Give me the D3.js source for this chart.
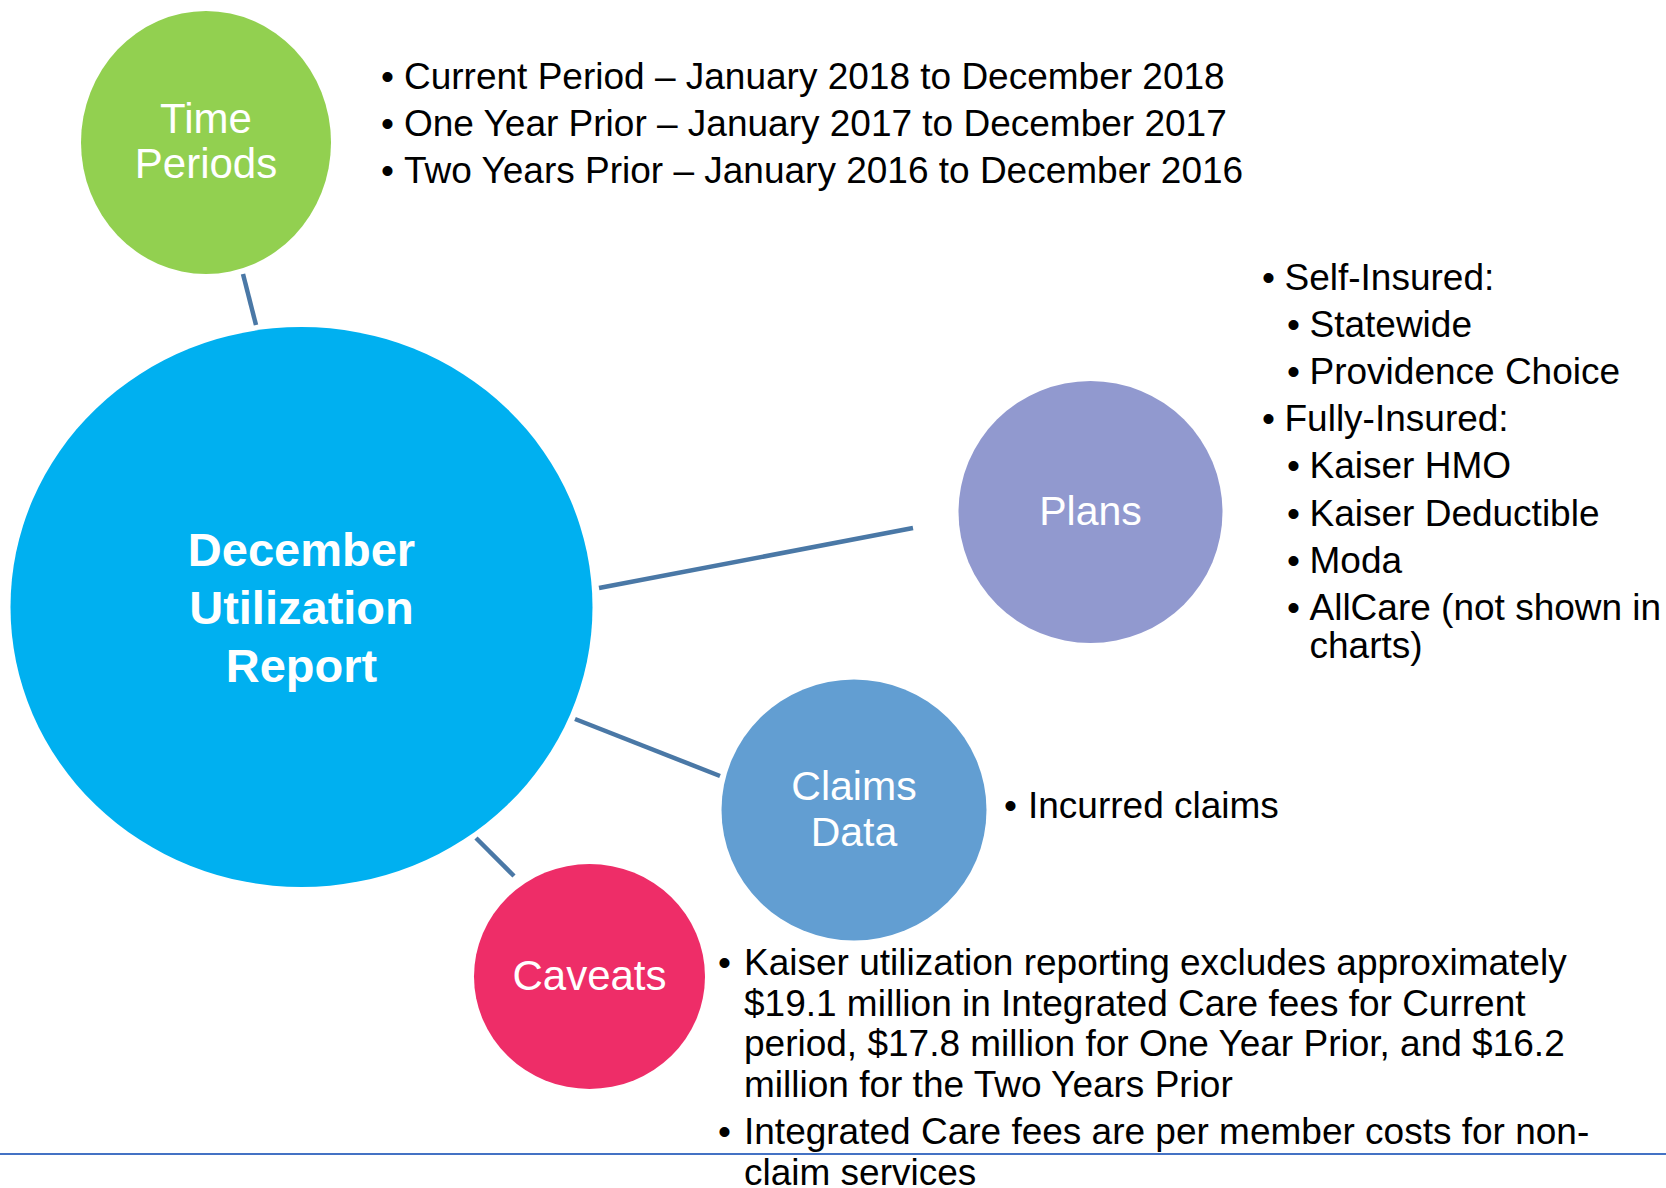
<!DOCTYPE html>
<html>
<head>
<meta charset="utf-8">
<title>December Utilization Report</title>
<script src="https://cdn.jsdelivr.net/npm/d3@7"></script>
<style>
  body { margin: 0; background: #fff; }
  svg text { font-family: "Liberation Sans", Arial, sans-serif; }
</style>
</head>
<body>
<div id="chart"></div>
<script>
// topics shown as bubbles
var topics = ["main", "time", "plans", "claims", "caveats"];
var topicLabels = [
    ["December", "Utilization", "Report"],
    ["Time", "Periods"],
    ["Plans"],
    ["Claims", "Data"],
    ["Caveats"]
];

// bullet texts for each topic (each item = list of wrapped lines)
var timeItems = [
    ["Current Period \u2013 January 2018 to December 2018"],
    ["One Year Prior \u2013 January 2017 to December 2017"],
    ["Two Years Prior \u2013 January 2016 to December 2016"]
];
var planItems = [
    ["Self-Insured:"],
    ["Statewide"],
    ["Providence Choice"],
    ["Fully-Insured:"],
    ["Kaiser HMO"],
    ["Kaiser Deductible"],
    ["Moda"],
    ["AllCare (not shown in", "charts)"]
];
var planLevels = [0, 1, 1, 0, 1, 1, 1, 1];
var claimItems = [
    ["Incurred claims"]
];
var caveatItems = [
    ["Kaiser utilization reporting excludes approximately",
     "$19.1 million in Integrated Care fees for Current",
     "period, $17.8 million for One Year Prior, and $16.2",
     "million for the Two Years Prior"],
    ["Integrated Care fees are per member costs for non-",
     "claim services"]
];

// ---- layout (pixels) ----
var W = 1666, H = 1188;

var bubbles = {
    main:    {cx: 301.5, cy: 607, rx: 291, ry: 280, fill: "#00b0f0", size: 47, bold: true, lh: 58, base: 566},
    time:    {cx: 206, cy: 142.5, rx: 125, ry: 131.5, fill: "#92d050", size: 42, lh: 45.5, base: 132.5},
    plans:   {cx: 1090.5, cy: 512, rx: 132, ry: 131, fill: "#9199cf", size: 41, lh: 46, base: 524.5},
    claims:  {cx: 854, cy: 810, rx: 132.5, ry: 130.5, fill: "#629ed2", size: 41, lh: 46, base: 800},
    caveats: {cx: 589.5, cy: 976.5, rx: 115.5, ry: 112.5, fill: "#ee2d68", size: 42, lh: 46, base: 990}
};

var links = [
    {from: [243, 274], to: [256, 325]},
    {from: [599, 588], to: [913, 528]},
    {from: [575, 719], to: [720, 776]},
    {from: [476, 838], to: [514, 876]}
];

var blocks = [
    {items: timeItems, levels: null, bx: [381], tx: [404], base: 89, para: 46.8, lh: 46.8},
    {items: planItems, levels: planLevels, bx: [1262, 1287], tx: [1284.5, 1309.5], base: 290, para: 47.1, lh: 38.5},
    {items: claimItems, levels: null, bx: [1004], tx: [1028], base: 817.5, para: 46, lh: 46},
    {items: caveatItems, levels: null, bx: [718], tx: [744], base: 975, para: 47.5, lh: 40.5}
];

var svg = d3.select("#chart").append("svg")
    .attr("width", W)
    .attr("height", H);

// connector lines
svg.selectAll("line.link")
    .data(links)
    .enter().append("line")
    .attr("class", "link")
    .attr("x1", function (d) { return d.from[0]; })
    .attr("y1", function (d) { return d.from[1]; })
    .attr("x2", function (d) { return d.to[0]; })
    .attr("y2", function (d) { return d.to[1]; })
    .style("stroke", "#4a78a6")
    .style("stroke-width", 4.5);

// bubbles
var g = svg.selectAll("g.topic")
    .data(topics)
    .enter().append("g")
    .attr("class", "topic");

g.append("ellipse")
    .attr("cx", function (d) { return bubbles[d].cx; })
    .attr("cy", function (d) { return bubbles[d].cy; })
    .attr("rx", function (d) { return bubbles[d].rx; })
    .attr("ry", function (d) { return bubbles[d].ry; })
    .style("fill", function (d) { return bubbles[d].fill; });

g.each(function (d, i) {
    var b = bubbles[d];
    d3.select(this).selectAll("text")
        .data(topicLabels[i])
        .enter().append("text")
        .attr("x", b.cx)
        .attr("y", function (t, j) { return b.base + j * b.lh; })
        .attr("text-anchor", "middle")
        .style("fill", "#fff")
        .style("font-size", b.size + "px")
        .style("font-weight", b.bold ? "bold" : "normal")
        .text(function (t) { return t; });
});

// bullet lists
blocks.forEach(function (blk) {
    var y = blk.base;
    blk.items.forEach(function (lines, i) {
        var lvl = blk.levels ? blk.levels[i] : 0;
        if (i > 0) y += blk.para;
        svg.append("text")
            .attr("x", blk.bx[lvl])
            .attr("y", y)
            .style("font-size", "37px")
            .style("fill", "#000")
            .text("\u2022");
        lines.forEach(function (line, j) {
            if (j > 0) y += blk.lh;
            svg.append("text")
                .attr("x", blk.tx[lvl])
                .attr("y", y)
                .style("font-size", "37px")
                .style("fill", "#000")
                .text(line);
        });
    });
});

// footer rule
svg.append("line")
    .attr("x1", 0)
    .attr("x2", W)
    .attr("y1", 1154)
    .attr("y2", 1154)
    .style("stroke", "#4472c4")
    .style("stroke-width", 2);
</script>
</body>
</html>
